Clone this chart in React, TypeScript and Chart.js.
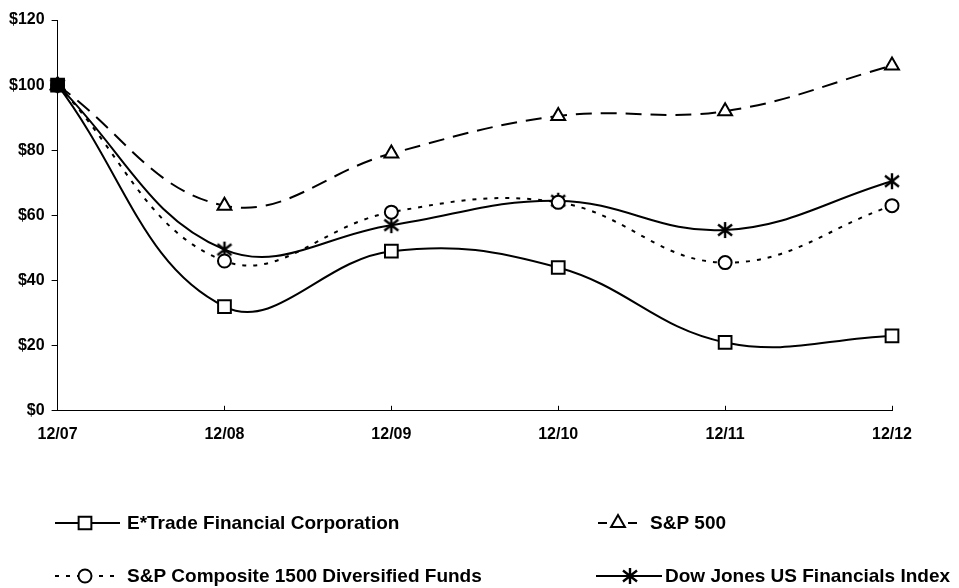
import React, { useEffect, useRef } from "react";
import { Chart, registerables } from "chart.js";
Chart.register(...registerables);

const categories = ["12/07", "12/08", "12/09", "12/10", "12/11", "12/12"];
const etrade = [100, 32, 49, 44, 21, 23];
const sp500 = [100, 63, 79, 90.5, 92, 106];
const sp1500 = [100, 46, 61, 64, 45.5, 63];
const dowJones = [100, 49.5, 57, 64.5, 55.5, 70.5];
const seriesNames = [
  "E*Trade Financial Corporation",
  "S&P 500",
  "S&P Composite 1500 Diversified Funds",
  "Dow Jones US Financials Index",
];

function makeAsterisk(): HTMLCanvasElement {
  const c = document.createElement("canvas");
  c.width = 18;
  c.height = 18;
  const g = c.getContext("2d")!;
  g.strokeStyle = "#000";
  g.lineWidth = 2.4;
  g.beginPath();
  g.moveTo(9, 1);
  g.lineTo(9, 17);
  g.moveTo(2, 3.5);
  g.lineTo(16, 14.5);
  g.moveTo(16, 3.5);
  g.lineTo(2, 14.5);
  g.stroke();
  return c;
}

function drawMarker(ctx: any, s: any, r: number, x: number, y: number) {
  if (s instanceof HTMLCanvasElement) {
    ctx.drawImage(s, x - s.width / 2, y - s.height / 2);
    return;
  }
  ctx.beginPath();
  if (s === "rect") {
    const h = r * Math.SQRT1_2;
    ctx.rect(x - h, y - h, 2 * h, 2 * h);
  } else if (s === "triangle") {
    const a = (Math.PI * 2) / 3;
    ctx.moveTo(x, y - r);
    ctx.lineTo(x + r * Math.sin(a), y - r * Math.cos(a));
    ctx.lineTo(x - r * Math.sin(a), y - r * Math.cos(a));
    ctx.closePath();
  } else {
    ctx.arc(x, y, r, 0, Math.PI * 2);
  }
  ctx.fill();
  ctx.stroke();
}

export default function App() {
  const ref = useRef<HTMLCanvasElement>(null);
  useEffect(() => {
    const asterisk = makeAsterisk();
    const font = "'Liberation Sans', Arial, sans-serif";
    const legendPlugin = {
      id: "customLegend",
      afterDraw(chart: any) {
        const ctx = chart.ctx;
        const xs = chart.scales.x;
        const yb = chart.chartArea.bottom;
        ctx.save();
        ctx.strokeStyle = "#000";
        ctx.lineWidth = 1;
        for (let i = 1; i < categories.length; i++) {
          const px = Math.round(xs.getPixelForTick(i)) + 0.5;
          ctx.beginPath();
          ctx.moveTo(px, yb);
          ctx.lineTo(px, yb - 5);
          ctx.stroke();
        }
        ctx.restore();
        const items = [
          { x: 55, y: 523, len: 65, mx: 85, tx: 127, ds: 0 },
          { x: 598, y: 523, len: 42, mx: 618, tx: 650, ds: 1 },
          { x: 55, y: 576, len: 65, mx: 85, tx: 127, ds: 2 },
          { x: 596, y: 576, len: 66, mx: 630, tx: 665, ds: 3 },
        ];
        items.forEach((it) => {
          const d = chart.data.datasets[it.ds];
          ctx.save();
          ctx.strokeStyle = "#000";
          ctx.lineWidth = 2;
          ctx.setLineDash(it.ds === 1 ? [9, 21] : d.borderDash || []);
          ctx.beginPath();
          ctx.moveTo(it.x, it.y);
          ctx.lineTo(it.x + it.len, it.y);
          ctx.stroke();
          ctx.restore();
          ctx.save();
          ctx.fillStyle = "#fff";
          ctx.strokeStyle = "#000";
          ctx.lineWidth = 2;
          drawMarker(ctx, d.pointStyle, d.pointRadius, it.mx, it.y);
          ctx.restore();
          ctx.save();
          ctx.fillStyle = "#000";
          ctx.font = "bold 19px " + font;
          ctx.textBaseline = "middle";
          ctx.fillText(seriesNames[it.ds], it.tx, it.y + 1);
          ctx.restore();
        });
      },
    };
    const base = {
      borderColor: "#000",
      pointBorderColor: "#000",
      pointBackgroundColor: "#fff",
      borderWidth: 2,
      pointBorderWidth: 2,
      tension: 0.4,
      fill: false,
    };
    const chart = new Chart(ref.current!, {
      type: "line",
      data: {
        labels: categories,
        datasets: [
          {
            ...base,
            label: seriesNames[0],
            data: etrade,
            pointStyle: "rect",
            pointRadius: 9,
            pointBackgroundColor: categories.map((_, i) => (i === 0 ? "#000" : "#fff")),
          },
          { ...base, label: seriesNames[1], data: sp500, pointStyle: "triangle", pointRadius: 8, borderDash: [16, 9] },
          { ...base, label: seriesNames[2], data: sp1500, pointStyle: "circle", pointRadius: 6.5, borderDash: [4, 7] },
          { ...base, label: seriesNames[3], data: dowJones, pointStyle: asterisk as any, pointRadius: 8 },
        ],
      },
      options: {
        responsive: false,
        animation: false,
        layout: { padding: { left: 2, right: 67, top: 20, bottom: 130 } },
        plugins: { legend: { display: false }, tooltip: { enabled: false } },
        scales: {
          x: {
            offset: false,
            grid: { display: true, drawOnChartArea: false, drawTicks: false, color: "#000" },
            border: { color: "#000", width: 1 },
            ticks: { color: "#000", font: { family: font, size: 16, weight: "bold" }, padding: 14, maxRotation: 0 },
          },
          y: {
            min: 0,
            max: 120,
            grid: { display: true, drawOnChartArea: false, drawTicks: true, tickLength: 6, color: "#000" },
            border: { color: "#000", width: 1 },
            ticks: {
              stepSize: 20,
              color: "#000",
              font: { family: font, size: 16, weight: "bold" },
              padding: 7,
              callback: (v: any) => "$" + v,
            },
          },
        },
      },
      plugins: [legendPlugin],
    });
    return () => chart.destroy();
  }, []);
  return (
    <div style={{ position: "fixed", left: 0, top: 0, width: 959, height: 588, background: "#fff" }}>
      <canvas ref={ref} width={959} height={588} style={{ width: 959, height: 588 }} />
    </div>
  );
}
